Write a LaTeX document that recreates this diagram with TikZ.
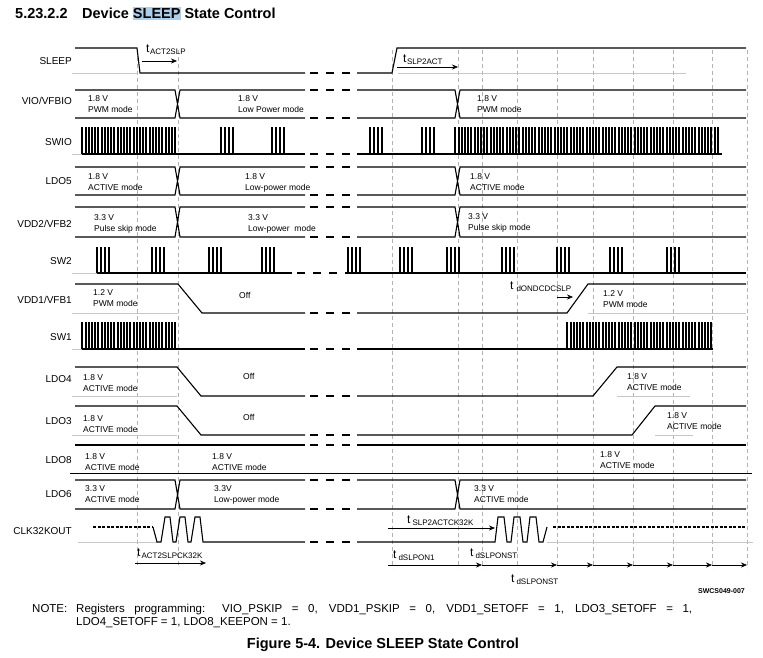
\documentclass[tikz,border=0pt]{standalone}
\usepackage{fontspec}
\setmainfont{Liberation Sans}
\usetikzlibrary{arrows.meta}
\definecolor{hl}{RGB}{172,206,234}
\newcommand\tsb[2][1pt]{{\fontsize{12}{12}\selectfont t}\hspace{#1}\raisebox{-0.5ex}{\fontsize{8}{8}\selectfont #2}}
\newcommand\brk[2][0]{\foreach \q in {310,326,342}{\draw[wave]({\q+#1},#2)--++(8,0);}}
\newcommand\bus[2]{\draw[wave](75,#1)--(175,#1)--(180,#2)--(305,#2) (75,#2)--(175,#2)--(180,#1)--(305,#1) (357,#1)--(455,#1)--(460,#2)--(746,#2) (357,#2)--(455,#2)--(460,#1)--(746,#1);\brk{#1}\brk{#2}}
\newcommand\burst[5]{\foreach \k in {1,...,#2}{\draw[wave]({#1+(\k-1)*#3},#5)--++(0,#4-#5)--++(0.9,0)--++(0,#5-#4);}}
\begin{document}
\begin{tikzpicture}[x=1pt,y=-1pt,
  wave/.style={line width=1.1pt},
  grid/.style={black!30,line width=0.5pt,dash pattern=on 4pt off 3pt},
  base/.style={black!22,line width=0.5pt},
  sig/.style={anchor=east,inner sep=0pt,font=\fontsize{10}{12}\selectfont},
  lbl/.style={anchor=north west,align=left,inner sep=0pt,font=\fontsize{8.5}{11}\selectfont},
  tm/.style={anchor=base west,inner sep=0pt},
  arr/.style={-{Stealth[length=6pt,width=5pt]},line width=0.6pt},
  ttl/.style={inner sep=0pt,font=\bfseries\fontsize{14.5}{17}\selectfont}]
\useasboundingbox(0,0)rectangle(763,657);
\node[ttl,anchor=base west](secno) at (15,18){5.23.2.2};
\node[ttl,anchor=base west](sectitle) at (82,18){Device {\fboxsep=0pt\colorbox{hl}{\rule[-2pt]{0pt}{13pt}SLEEP}} State Control};
\foreach \x in {137,178,392,458,482,517,557,593,633,673,712,747}{\draw[grid](\x,50)--(\x,568);}
\foreach \n/\y/\s in {sleep/61/SLEEP,vio/101/{VIO/VFBIO},swio/142/SWIO,ldo5/181/LDO5,vdd2/224/{VDD2/VFB2},sw2/261/SW2,vdd1/300/{VDD1/VFB1},sw1/337/SW1,ldo4/379/LDO4,ldo3/421/LDO3,ldo8/460/LDO8,ldo6/494/LDO6,clk/531/CLK32KOUT}{\node[sig](\n) at (72,\y){\s};}
\draw[base](72,73)--(137,73) (398,73)--(686,73);
\draw[wave](75,48)--(137,48)--(140,73)--(305,73) (357,73)--(392,73)--(397,48)--(746,48);
\brk{73}
\bus{90}{118}
\bus{167}{195}
\bus{207}{237}
\bus{480}{509}
\draw[base](72,154)--(82,154);
\draw[wave](82,154)--(305,154) (357,154)--(722,154);
\brk{154}
\burst{82}{30}{3.2}{128}{154}
\foreach \x in {221,272,370,422}{\burst{\x}{4}{3.7}{128}{154}}
\burst{455}{83}{3.2}{128}{154}
\draw[base](72,273)--(97,273);
\draw[wave](97,273)--(292,273) (345,273)--(746,273);
\brk[-13]{273}
\foreach \x in {97,152,209,262,348,400,447,502,557,610,667}{\burst{\x}{4}{3.7}{248}{273}}
\draw[base](72,313)--(178,313) (588,313)--(746,313);
\draw[wave](75,284)--(178,284)--(202,313)--(305,313) (357,313)--(567,313)--(588,284)--(746,284);
\brk{313}
\draw[base](72,349)--(82,349);
\draw[wave](82,349)--(305,349) (357,349)--(713,349);
\brk{349}
\burst{82}{30}{3.2}{323}{349}
\burst{567}{46}{3.2}{323}{349}
\draw[base](72,396)--(177,396) (617,396)--(690,396);
\draw[wave](75,367)--(177,367)--(201,396)--(305,396) (357,396)--(593,396)--(617,367)--(746,367);
\brk{396}
\draw[base](72,435)--(177,435) (655,435)--(693,435);
\draw[wave](75,406)--(177,406)--(201,435)--(305,435) (357,435)--(632,435)--(655,406)--(746,406);
\brk{435}
\draw[wave](75,445)--(305,445) (357,445)--(746,445);
\brk{445}
\draw[line width=0.6pt](70,473)--(752,473);
\draw[base](78,542)--(157,542) (547,542)--(753,542);
\draw[wave,dash pattern=on 3pt off 1.5pt](93,527)--(153,527) (553,527)--(746,527);
\draw[wave](153,527)--(157,542) foreach \x in {161,176,191}{--(\x,542)--(\x+4,517)--(\x+9,517)--(\x+12,542)}--(305,542) (357,542) foreach \x in {495,511,527}{--(\x,542)--(\x+3,517)--(\x+9,517)--(\x+12,542)}--(543,542)--(547,527);
\brk{542}
\foreach \n/\x/\y/\s in {vioa/88/95/{1.8 V\\PWM mode},viob/238/95/{1.8 V\\Low Power mode},vioc/477/95/{1.8 V\\PWM mode},
  ldo5a/88/173/{1.8 V\\ACTIVE mode},ldo5b/245/173/{1.8 V\\Low-power mode},ldo5c/470/173/{1.8 V\\ACTIVE mode},
  vdd2a/94/214/{3.3 V\\Pulse skip mode},vdd2b/248/214/{3.3 V\\Low-power\ \ mode},vdd2c/468/213/{3.3 V\\Pulse skip mode},
  vdd1a/93/289/{1.2 V\\PWM mode},vdd1b/239/292/{Off},vdd1c/603/290/{1.2 V\\PWM mode},
  ldo4a/83/374/{1.8 V\\ACTIVE mode},ldo4b/243/373/{Off},ldo4c/627/373/{1.8 V\\ACTIVE mode},
  ldo3a/83/415/{1.8 V\\ACTIVE mode},ldo3b/243/414/{Off},ldo3c/667/412/{1.8 V\\ACTIVE mode},
  ldo8a/85/453/{1.8 V\\ACTIVE mode},ldo8b/212/453/{1.8 V\\ACTIVE mode},ldo8c/600/451/{1.8 V\\ACTIVE mode},
  ldo6a/85/485/{3.3 V\\ACTIVE mode},ldo6b/214/485/{3.3V\\Low-power mode},ldo6c/474/485/{3.3 V\\ACTIVE mode}}{\node[lbl](\n) at (\x,\y){\s};}
\node[tm](tact) at (146,52){\tsb[0.5pt]{ACT2SLP}};
\draw[arr](142,61)--(177,61);
\node[tm](tslp) at (403,62){\tsb[0.5pt]{SLP2ACT}};
\draw[arr](397,67)--(458,67);
\node[tm](tdon) at (510,289){\tsb[3pt]{dONDCDCSLP}};
\draw[arr](557,297)--(573,297);
\node[tm](tslpck) at (407,523){\tsb[2pt]{SLP2ACTCK32K}};
\draw[arr](388,528)--(495,528);
\node[tm](tactck) at (137,556){\tsb[1pt]{ACT2SLPCK32K}};
\draw[arr](135,563)--(206,563);
\node[tm](ton) at (393,558){\tsb[2pt]{dSLPON1}};
\node[tm](tonst) at (470,556){\tsb[2pt]{dSLPONST}};
\node[tm](tonstb) at (511,582){\tsb[2pt]{dSLPONST}};
\foreach \a/\b in {388/482,482/557,557/593,593/633,633/673,673/712,712/747}{\draw[arr](\a,565)--(\b,565);}
\node[anchor=base east,inner sep=0pt,font=\bfseries\fontsize{7}{8}\selectfont](figid) at (745,593){SWCS049-007};
\node[anchor=base west,inner sep=0pt,font=\fontsize{11.5}{13}\selectfont](notehd) at (32,612){NOTE:};
\node[anchor=north west,inner sep=0pt,text width=616pt,align=justify,font=\fontsize{11.5}{13}\selectfont](notetx) at (76,603.5){Registers programming: VIO\_PSKIP = 0, VDD1\_PSKIP = 0, VDD1\_SETOFF = 1, LDO3\_SETOFF = 1,\linebreak LDO4\_SETOFF = 1, LDO8\_KEEPON = 1.};
\node[ttl,anchor=base](figcap) at (383,648){Figure 5-4. Device SLEEP State Control};
\end{tikzpicture}
\end{document}
